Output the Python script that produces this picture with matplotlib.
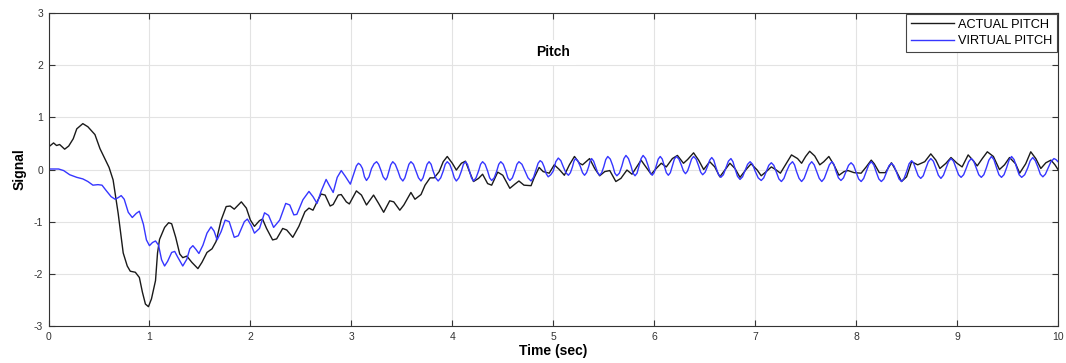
import numpy as np
import matplotlib
matplotlib.use("Agg")
import matplotlib.pyplot as plt

plt.rcParams['font.family'] = ['Liberation Sans', 'DejaVu Sans']
plt.rcParams['axes.unicode_minus'] = False

# values as (time in s, signal)
actual_pts = [
    (0.00, 0.43), (0.05, 0.51), (0.08, 0.46), (0.11, 0.48), (0.16, 0.39), (0.20, 0.45),
    (0.245, 0.59), (0.28, 0.78), (0.34, 0.88), (0.39, 0.82), (0.46, 0.67), (0.51, 0.40),
    (0.56, 0.20), (0.60, 0.04), (0.64, -0.20), (0.69, -0.84), (0.74, -1.60), (0.78, -1.85),
    (0.81, -1.95), (0.86, -1.97), (0.90, -2.07), (0.93, -2.35), (0.96, -2.58), (0.99, -2.63),
    (1.02, -2.48), (1.06, -2.13), (1.08, -1.60), (1.10, -1.34), (1.15, -1.11), (1.19, -1.02),
    (1.22, -1.04), (1.26, -1.30), (1.30, -1.62), (1.33, -1.69), (1.37, -1.66), (1.42, -1.78),
    (1.48, -1.90), (1.52, -1.78), (1.57, -1.59), (1.62, -1.52), (1.66, -1.38), (1.71, -0.97),
    (1.76, -0.71), (1.80, -0.70), (1.84, -0.76), (1.91, -0.62), (1.96, -0.74), (2.00, -0.97),
    (2.04, -1.09), (2.09, -0.98), (2.12, -0.95), (2.16, -1.13), (2.22, -1.35), (2.26, -1.33),
    (2.32, -1.13), (2.36, -1.16), (2.42, -1.30), (2.48, -1.09), (2.54, -0.81), (2.58, -0.74),
    (2.62, -0.78), (2.66, -0.62), (2.70, -0.47), (2.74, -0.49), (2.79, -0.70), (2.82, -0.67),
    (2.87, -0.49), (2.90, -0.48), (2.95, -0.62), (2.98, -0.66), (3.05, -0.41), (3.10, -0.49),
    (3.15, -0.68), (3.22, -0.49), (3.27, -0.65), (3.32, -0.82), (3.38, -0.60), (3.42, -0.62),
    (3.48, -0.78), (3.52, -0.68), (3.59, -0.44), (3.63, -0.57), (3.69, -0.48), (3.73, -0.30),
    (3.78, -0.16), (3.82, -0.16), (3.87, -0.04), (3.91, 0.15), (3.95, 0.25), (4.00, 0.12),
    (4.04, -0.01), (4.09, 0.12), (4.13, 0.16), (4.17, -0.04), (4.21, -0.23), (4.26, -0.17),
    (4.30, -0.09), (4.35, -0.27), (4.39, -0.30), (4.45, -0.05), (4.50, -0.11), (4.57, -0.36),
    (4.62, -0.28), (4.66, -0.22), (4.71, -0.30), (4.78, -0.31), (4.81, -0.16), (4.86, 0.04),
    (4.90, -0.04), (4.96, -0.07), (5.01, 0.09), (5.06, 0.00), (5.11, -0.11), (5.16, 0.09),
    (5.21, 0.25), (5.26, 0.12), (5.29, 0.09), (5.36, 0.21), (5.41, 0.02), (5.46, -0.12),
    (5.51, -0.04), (5.56, -0.02), (5.62, -0.23), (5.67, -0.17), (5.73, -0.01), (5.78, -0.09),
    (5.84, 0.09), (5.87, 0.18), (5.91, 0.07), (5.97, -0.09), (6.02, 0.02), (6.07, 0.12),
    (6.12, 0.05), (6.18, 0.21), (6.23, 0.27), (6.29, 0.12), (6.33, 0.19), (6.39, 0.32),
    (6.44, 0.18), (6.49, 0.00), (6.55, 0.15), (6.60, 0.05), (6.65, -0.14), (6.70, -0.01),
    (6.75, 0.12), (6.80, 0.02), (6.85, -0.15), (6.91, 0.00), (6.96, 0.11), (7.02, -0.01),
    (7.06, -0.12), (7.11, -0.04), (7.16, 0.05), (7.21, -0.01), (7.25, -0.07), (7.31, 0.12),
    (7.36, 0.28), (7.42, 0.21), (7.46, 0.12), (7.50, 0.25), (7.54, 0.35), (7.59, 0.26),
    (7.64, 0.09), (7.68, 0.15), (7.73, 0.25), (7.78, 0.09), (7.83, -0.11), (7.88, -0.04),
    (7.92, -0.02), (7.98, -0.06), (8.05, -0.07), (8.10, 0.05), (8.15, 0.18), (8.18, 0.11),
    (8.23, -0.06), (8.29, -0.06), (8.35, 0.13), (8.40, -0.04), (8.45, -0.23), (8.50, -0.14),
    (8.55, 0.15), (8.61, 0.09), (8.68, 0.15), (8.74, 0.30), (8.79, 0.18), (8.83, 0.02),
    (8.89, 0.12), (8.94, 0.23), (9.00, 0.12), (9.05, 0.05), (9.11, 0.28), (9.16, 0.17),
    (9.20, 0.07), (9.25, 0.21), (9.30, 0.34), (9.36, 0.25), (9.42, 0.00), (9.47, 0.09),
    (9.52, 0.23), (9.58, 0.11), (9.62, -0.07), (9.68, 0.11), (9.73, 0.34), (9.78, 0.21),
    (9.83, 0.02), (9.88, 0.13), (9.93, 0.18), (9.97, 0.09), (10.00, 0.00),
]

virtual_pts = [
    (0.00, 0.01), (0.05, 0.01), (0.10, 0.01), (0.15, -0.02), (0.21, -0.10), (0.28, -0.15),
    (0.34, -0.18), (0.39, -0.23), (0.44, -0.30), (0.49, -0.29), (0.53, -0.30), (0.57, -0.40),
    (0.62, -0.52), (0.66, -0.57), (0.69, -0.54), (0.72, -0.50), (0.75, -0.57), (0.79, -0.82),
    (0.83, -0.92), (0.87, -0.84), (0.90, -0.80), (0.94, -1.05), (0.97, -1.35), (1.00, -1.46),
    (1.03, -1.40), (1.06, -1.37), (1.09, -1.45), (1.12, -1.73), (1.15, -1.85), (1.18, -1.76),
    (1.22, -1.59), (1.25, -1.57), (1.28, -1.68), (1.33, -1.85), (1.37, -1.72), (1.40, -1.52),
    (1.43, -1.46), (1.46, -1.53), (1.49, -1.61), (1.53, -1.45), (1.57, -1.22), (1.61, -1.10),
    (1.64, -1.18), (1.67, -1.35), (1.71, -1.19), (1.75, -0.97), (1.79, -1.00), (1.84, -1.30),
    (1.88, -1.27), (1.94, -1.00), (1.97, -0.95), (2.01, -1.08), (2.04, -1.22), (2.09, -1.13),
    (2.14, -0.83), (2.18, -0.88), (2.23, -1.11), (2.29, -0.97), (2.35, -0.65), (2.39, -0.68),
    (2.43, -0.87), (2.46, -0.86), (2.52, -0.58), (2.58, -0.42), (2.62, -0.52), (2.66, -0.65),
    (2.70, -0.42), (2.75, -0.19), (2.78, -0.30), (2.82, -0.44), (2.86, -0.15), (2.90, -0.02),
    (2.94, -0.13), (2.99, -0.28), (3.03, -0.05), (3.05, 0.07), (3.07, 0.12), (3.09, 0.09),
    (3.11, 0.02), (3.13, -0.14), (3.15, -0.21), (3.175, -0.14), (3.20, 0.02), (3.225, 0.11),
    (3.25, 0.15), (3.27, 0.10), (3.29, 0.00), (3.315, -0.14), (3.34, -0.20), (3.355, -0.15),
    (3.37, -0.05), (3.39, 0.09), (3.41, 0.15), (3.435, 0.10), (3.46, -0.02), (3.485, -0.16),
    (3.51, -0.22), (3.53, -0.16), (3.55, -0.03), (3.57, 0.10), (3.59, 0.15), (3.615, 0.10),
    (3.64, -0.03), (3.665, -0.16), (3.69, -0.22), (3.71, -0.16), (3.73, -0.03), (3.75, 0.10),
    (3.77, 0.15), (3.79, 0.10), (3.81, -0.03), (3.835, -0.16), (3.86, -0.22), (3.885, -0.16),
    (3.91, -0.03), (3.93, 0.10), (3.95, 0.15), (3.975, 0.10), (4.00, -0.03), (4.02, -0.16),
    (4.04, -0.22), (4.065, -0.16), (4.09, -0.03), (4.11, 0.10), (4.13, 0.15), (4.15, 0.10),
    (4.17, -0.03), (4.19, -0.16), (4.21, -0.22), (4.235, -0.16), (4.26, -0.03), (4.28, 0.10),
    (4.30, 0.15), (4.325, 0.10), (4.35, -0.03), (4.37, -0.16), (4.39, -0.21), (4.415, -0.16),
    (4.44, -0.03), (4.46, 0.10), (4.48, 0.15), (4.505, 0.10), (4.53, -0.03), (4.55, -0.16),
    (4.57, -0.21), (4.595, -0.16), (4.62, -0.03), (4.64, 0.10), (4.66, 0.15), (4.69, 0.10),
    (4.72, -0.03), (4.75, -0.16), (4.78, -0.22), (4.805, -0.15), (4.83, 0.00), (4.85, 0.12),
    (4.87, 0.17), (4.89, 0.14), (4.91, 0.05), (4.93, -0.08), (4.95, -0.14), (4.975, -0.10),
    (5.00, -0.03), (5.025, 0.15), (5.05, 0.22), (5.075, 0.17), (5.10, 0.05), (5.125, -0.06),
    (5.15, -0.11), (5.17, -0.06), (5.19, 0.05), (5.205, 0.16), (5.22, 0.21), (5.245, 0.16),
    (5.27, 0.05), (5.29, -0.06), (5.31, -0.11), (5.33, -0.06), (5.35, 0.05), (5.365, 0.16),
    (5.38, 0.21), (5.40, 0.16), (5.42, 0.05), (5.44, -0.06), (5.46, -0.11), (5.48, -0.06),
    (5.50, 0.05), (5.52, 0.19), (5.54, 0.25), (5.565, 0.20), (5.59, 0.07), (5.61, -0.07),
    (5.63, -0.12), (5.655, -0.07), (5.68, 0.07), (5.70, 0.21), (5.72, 0.27), (5.745, 0.21),
    (5.77, 0.07), (5.79, -0.07), (5.81, -0.12), (5.83, -0.07), (5.85, 0.07), (5.87, 0.21),
    (5.89, 0.27), (5.915, 0.21), (5.94, 0.07), (5.96, -0.06), (5.98, -0.11), (6.00, -0.06),
    (6.02, 0.07), (6.04, 0.20), (6.06, 0.25), (6.08, 0.20), (6.10, 0.07), (6.12, -0.06),
    (6.14, -0.11), (6.16, -0.06), (6.18, 0.07), (6.20, 0.20), (6.22, 0.25), (6.245, 0.20),
    (6.27, 0.08), (6.29, -0.03), (6.31, -0.08), (6.33, -0.03), (6.35, 0.08), (6.37, 0.20),
    (6.39, 0.25), (6.415, 0.20), (6.44, 0.07), (6.46, -0.05), (6.48, -0.10), (6.505, -0.05),
    (6.53, 0.07), (6.55, 0.18), (6.57, 0.23), (6.59, 0.18), (6.61, 0.05), (6.635, -0.09),
    (6.66, -0.15), (6.685, -0.10), (6.71, 0.03), (6.735, 0.16), (6.76, 0.21), (6.78, 0.15),
    (6.80, 0.02), (6.825, -0.13), (6.85, -0.19), (6.875, -0.14), (6.90, -0.02), (6.925, 0.10),
    (6.95, 0.15), (6.975, 0.10), (7.00, -0.03), (7.03, -0.16), (7.06, -0.21), (7.085, -0.16),
    (7.11, -0.04), (7.135, 0.08), (7.16, 0.13), (7.185, 0.08), (7.21, -0.05), (7.235, -0.18),
    (7.26, -0.23), (7.285, -0.17), (7.31, -0.04), (7.34, 0.09), (7.37, 0.15), (7.39, 0.09),
    (7.41, -0.04), (7.435, -0.17), (7.46, -0.23), (7.485, -0.17), (7.51, -0.04), (7.535, 0.09),
    (7.56, 0.15), (7.585, 0.09), (7.61, -0.04), (7.635, -0.17), (7.66, -0.23), (7.685, -0.17),
    (7.71, -0.04), (7.735, 0.09), (7.76, 0.15), (7.78, 0.10), (7.80, -0.03), (7.825, -0.16),
    (7.85, -0.21), (7.875, -0.16), (7.90, -0.04), (7.925, 0.08), (7.95, 0.13), (7.975, 0.08),
    (8.00, -0.05), (8.025, -0.18), (8.05, -0.23), (8.075, -0.17), (8.10, -0.04), (8.125, 0.09),
    (8.15, 0.15), (8.175, 0.09), (8.20, -0.05), (8.225, -0.18), (8.25, -0.23), (8.275, -0.18),
    (8.30, -0.06), (8.325, 0.07), (8.35, 0.12), (8.375, 0.07), (8.40, -0.05), (8.425, -0.18),
    (8.45, -0.23), (8.475, -0.17), (8.50, -0.04), (8.525, 0.11), (8.55, 0.17), (8.57, 0.12),
    (8.59, 0.01), (8.615, -0.12), (8.64, -0.17), (8.665, -0.12), (8.69, 0.02), (8.715, 0.15),
    (8.74, 0.21), (8.765, 0.16), (8.79, 0.03), (8.815, -0.11), (8.84, -0.17), (8.865, -0.11),
    (8.89, 0.02), (8.915, 0.15), (8.94, 0.21), (8.965, 0.16), (8.99, 0.03), (9.015, -0.10),
    (9.04, -0.15), (9.065, -0.10), (9.09, 0.02), (9.115, 0.15), (9.14, 0.21), (9.165, 0.16),
    (9.19, 0.03), (9.215, -0.10), (9.24, -0.15), (9.265, -0.10), (9.29, 0.03), (9.315, 0.18),
    (9.34, 0.25), (9.365, 0.19), (9.39, 0.04), (9.415, -0.10), (9.44, -0.15), (9.465, -0.10),
    (9.49, 0.03), (9.515, 0.18), (9.54, 0.25), (9.565, 0.19), (9.59, 0.04), (9.615, -0.10),
    (9.64, -0.15), (9.67, -0.10), (9.70, 0.03), (9.725, 0.17), (9.75, 0.23), (9.775, 0.17),
    (9.80, 0.05), (9.825, -0.09), (9.85, -0.14), (9.875, -0.09), (9.90, 0.02), (9.93, 0.15),
    (9.96, 0.21), (9.98, 0.19), (10.00, 0.15),
]

x_ticks = list(range(0, 11))
y_ticks = [-3, -2, -1, 0, 1, 2, 3]

t_actual, actual = zip(*actual_pts)
t_virtual, virtual = zip(*virtual_pts)

fig = plt.figure(figsize=(10.66, 3.63), dpi=100)
ax = fig.add_axes([0.0455, 0.102, 0.947, 0.862])

ax.plot(t_actual, actual, color="#1a1a1a", lw=1.0, solid_joinstyle="round", label="ACTUAL PITCH")
ax.plot(t_virtual, virtual, color="#3636ff", lw=1.0, solid_joinstyle="round", label="VIRTUAL PITCH")

ax.set_xlim(0, 10)
ax.set_ylim(-3, 3)
ax.set_xticks(x_ticks)
ax.set_yticks(y_ticks)
ax.grid(True, color="#e3e3e3", lw=0.8)
ax.set_axisbelow(True)
ax.tick_params(direction="in", top=True, right=True, length=4, width=0.8,
               labelsize=7.5, colors="#333333", pad=4)
for s in ax.spines.values():
    s.set_color("#333333")
    s.set_linewidth(0.8)

ax.set_xlabel("Time (sec)", fontsize=10, fontweight="bold", labelpad=2)
ax.set_ylabel("Signal", fontsize=10, fontweight="bold", labelpad=5)
ax.text(0.5, 0.875, "Pitch", transform=ax.transAxes, ha="center", va="center",
        fontsize=10, fontweight="bold",
        bbox=dict(facecolor="white", edgecolor="none", pad=4))

leg = ax.legend(loc="upper right", fontsize=9.2, fancybox=False, framealpha=1,
                edgecolor="#444444", borderaxespad=0.1, handlelength=3.4,
                handletextpad=0.3, borderpad=0.35, labelspacing=0.35)
leg.get_frame().set_linewidth(0.8)

fig.savefig("out.png", dpi=100)
